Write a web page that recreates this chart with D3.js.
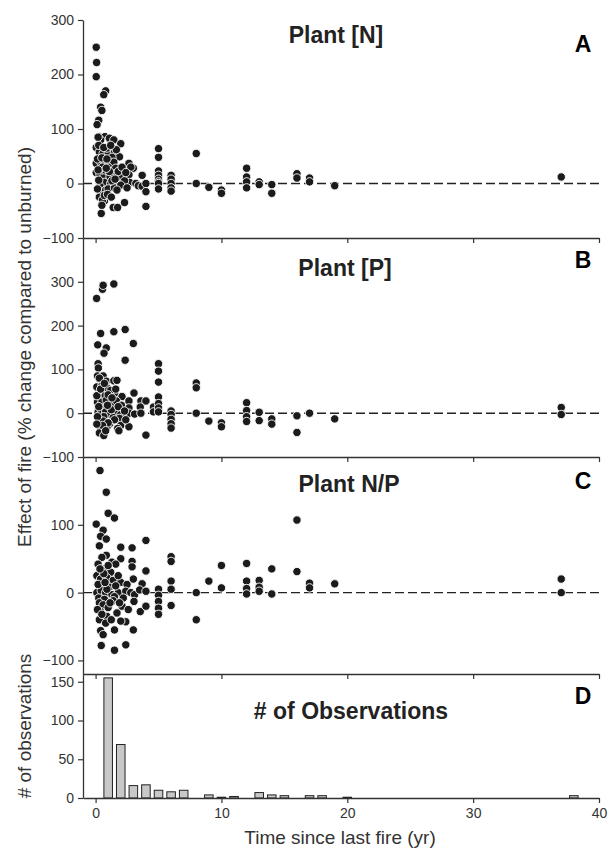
<!DOCTYPE html>
<html><head><meta charset="utf-8">
<script src="https://cdn.jsdelivr.net/npm/d3@7"></script>
<style>
body{margin:0;background:#fff;}
svg{font-family:"Liberation Sans",Arial,sans-serif;}
</style></head>
<body>
<svg id="chart" width="608" height="848"></svg>
<script>
// ---------- data ----------
const xTicks = [0, 10, 20, 30, 40];
const yTicksA = [-100, 0, 100, 200, 300];
const yTicksB = [-100, 0, 100, 200, 300];
const yTicksC = [-100, 0, 100];
const yTicksD = [0, 50, 100, 150];

// Panel A: Plant [N]  [years since fire, % change]
const plantN = [
 [0.05,250],[0.08,222],[0.05,196],[0.8,170],[0.65,163],[0.4,140],[0.5,134],[0.25,116],[0.12,108],
 [0.45,-55],[0.7,-32],[1.4,-44],[1.75,-44],[2.3,-35],[4.0,-42],
 [0.3,86],[0.55,84],[0.75,86],[1.1,83],[1.45,80],[2.0,73],[0.4,80],
 [0.05,66],[0.3,58],[0.6,55],[1.0,58],[1.5,57],[1.9,49],[0.9,65],[1.3,48],
 [0.05,37],[0.4,40],[0.75,37],[1.25,36],[1.45,39],[0.55,30],[1.0,30],[1.6,28],[2.65,37],[3.0,28],[2.8,30],
 [0.05,20],[0.35,17],[0.85,19],[1.45,17],[0.6,10],[1.15,12],[2.0,12],[2.65,16],[3.7,15],[0.2,25],[1.8,22],
 [0.35,0],[0.7,2],[1.2,0],[1.6,-4],[2.7,2],[3.2,0],[3.4,-4],[3.7,-5],[4.0,0],[2.3,5],
 [0.35,-5],[0.45,-15],[0.6,-18],[0.8,-12],[0.3,-25],[0.55,-30],[1.0,-10],[1.5,-8],[2.0,-3],[0.7,-22],[4.0,-15],[1.7,-12],
 [0.15,45],[0.25,70],[0.5,47],[0.65,66],[0.9,45],[1.1,22],[1.3,5],[0.95,-20],[0.15,-10],[0.5,-40],
 [1.25,-25],[1.65,62],[2.1,30],[2.4,20],[2.5,-8],[0.2,85],[1.2,70],[0.85,28],[0.25,6],[1.55,8],
 [5,64],[5,48],[5,23],[5,15],[5,8],[5,3],[5,0],[5,-10],
 [6,15],[6,8],[6,0],[6,-8],[6,-14],
 [8,55],[8,0],[9,-7],[10,-12],[10,-18],
 [12,28],[12,12],[12,3],[12,-8],[13,3],[13,-2],[14,-2],[14,-18],
 [16,18],[16,10],[17,10],[17,3],[19,-4],[37,12]
];

// Panel B: Plant [P]
const plantP = [
 [0.08,262],[0.55,283],[0.6,292],[1.45,295],[0.4,182],[1.45,186],[2.35,191],[0.17,156],[0.85,149],[0.67,137],[3.0,159],[2.35,121],[0.2,113],[0.22,103],
 [0.15,85],[0.6,85],[0.85,73],[1.45,74],[1.7,75],[0.3,80],
 [0.1,60],[0.5,63],[0.9,58],[1.5,45],[1.2,52],[0.35,42],[0.75,40],[3.05,46],[2.1,38],
 [0.15,25],[0.5,25],[0.85,30],[1.3,20],[1.65,28],[2.65,28],[3.6,28],[4.0,28],[2.05,18],[3.55,14],[0.6,12],[1.05,10],[2.65,12],[4.6,14],
 [0.2,2],[0.45,0],[0.8,3],[1.2,-3],[1.6,0],[2.0,-3],[2.65,0],[3.1,-2],[3.6,0],[4.6,3],[0.65,-8],[1.4,-10],[1.9,-12],
 [0.3,-20],[0.6,-18],[1.1,-25],[1.5,-15],[2.0,-28],[0.4,-35],[0.9,-32],[1.75,-35],[2.65,-31],[0.3,-45],[0.65,-51],[1.85,-40],[4.0,-50],[0.15,-8],[1.0,-22],
 [0.1,40],[0.4,55],[0.7,68],[1.0,42],[1.3,35],[0.25,15],[0.55,-28],[1.25,8],[1.8,15],[2.3,5],
 [0.8,-40],[0.1,-25],[1.6,55],[0.95,18],[2.4,-15],
 [5,113],[5,96],[5,71],[5,37],[5,22],[5,12],[5,3],
 [6,5],[6,-3],[6,-14],[6,-24],[6,-34],
 [8,69],[8,58],[8,0],[9,-18],[10,-22],[10,-31],
 [12,24],[12,6],[12,-8],[12,-19],[13,2],[13,-17],[14,-13],[14,-25],
 [16,-6],[16,-44],[17,0],[19,-13],[37,13],[37,-3]
];

// Panel C: Plant N/P
const plantNP = [
 [0.35,180],[0.85,148],[1.0,117],[1.5,110],[0.05,101],[0.6,92],[0.4,83],[0.85,79],[0.3,69],[2.0,67],[2.9,66],[4.0,77],
 [0.85,55],[2.0,50],[2.9,46],[0.5,52],[1.3,45],[0.2,42],[1.6,42],[2.9,38],[0.7,35],[1.2,30],
 [0.1,25],[0.4,20],[0.9,22],[1.4,18],[2.0,15],[0.6,10],[1.1,8],[3.7,13],[4.0,32],[2.5,12],[3.0,20],[1.8,25],
 [0.1,0],[0.45,3],[0.8,0],[1.3,-3],[1.8,0],[2.4,2],[2.8,0],[3.1,-3],[3.5,4],[4.0,2],[0.25,-8],[0.7,-10],[1.5,-6],
 [0.3,-15],[0.6,-18],[1.0,-22],[1.4,-12],[2.1,-20],[0.4,-28],[0.9,-35],[1.7,-30],[3.05,-13],[3.55,-28],[4.0,-20],
 [0.3,-40],[0.8,-45],[2.4,-43],[2.0,-42],[1.5,-55],[3.0,-55],[0.4,-56],[0.45,-78],[1.5,-85],[2.4,-77],[0.6,-62],
 [0.15,-25],[0.5,-32],[0.2,12],[0.65,28],[1.0,40],[1.25,-40],[1.6,10],[0.9,5],[2.2,-8],[0.35,35],
 [1.15,-15],[0.75,15],[2.6,-25],[1.9,-15],
 [5,5],[5,-4],[5,-13],[5,-23],[5,-32],
 [6,53],[6,46],[6,17],[6,5],[6,-19],
 [8,0],[8,-40],[9,17],[10,40],[10,7],
 [12,43],[12,17],[12,6],[12,-2],[13,18],[13,8],[13,2],[14,35],[14,-2],
 [16,107],[16,31],[17,14],[17,7],[19,13],[37,20],[37,0]
];

// Panel D: number of observations
const obsYears  = [1, 2, 3, 4, 5, 6, 7, 9, 10, 11, 13, 14, 15, 17, 18, 20, 38];
const obsCounts = [155, 69, 16, 17, 10, 8, 10, 4, 1, 2, 7, 4, 3, 3, 3, 1, 3];

// ---------- drawing ----------
const svg = d3.select("#chart");
const x = d3.scaleLinear().domain([-1, 40]).range([83, 599]);

const panels = [
  {data: plantN,  domain: [-100, 300], range: [238, 20],  ticks: yTicksA, title: "Plant [N]", tx: 336, ty: 43,  letter: "A", ly: 52},
  {data: plantP,  domain: [-100, 400], range: [457, 238], ticks: yTicksB, title: "Plant [P]", tx: 345, ty: 276, letter: "B", ly: 268},
  {data: plantNP, domain: [-120, 200], range: [674, 457], ticks: yTicksC, title: "Plant N/P", tx: 349, ty: 492, letter: "C", ly: 489}
];

function styleAxis(g) {
  g.selectAll("path.domain").attr("stroke", "#333").attr("stroke-width", 1.3);
  g.selectAll(".tick line").attr("stroke", "#333").attr("stroke-width", 1.2);
  g.selectAll(".tick text").attr("fill", "#333").style("font-size", "14px")
    .style("font-family", "'Liberation Sans',Arial,sans-serif");
}

panels.forEach(p => {
  const y = d3.scaleLinear().domain(p.domain).range(p.range);
  // zero dashed line
  svg.append("line")
    .attr("x1", x(-1)).attr("x2", x(40)).attr("y1", y(0)).attr("y2", y(0))
    .attr("stroke", "#222").attr("stroke-width", 1.4).attr("stroke-dasharray", "9,4");
  // points
  svg.append("g").selectAll("circle").data(p.data).join("circle")
    .attr("cx", d => x(d[0])).attr("cy", d => y(d[1])).attr("r", 4.2)
    .attr("fill", "#1b1b1b").attr("stroke", "#fff").attr("stroke-width", 0.9);
  // axes
  const gy = svg.append("g").attr("transform", `translate(${x(-1)},0)`)
    .call(d3.axisLeft(y).tickValues(p.ticks).tickSize(5).tickSizeOuter(0).tickPadding(4));
  styleAxis(gy);
  const gx = svg.append("g").attr("transform", `translate(0,${p.range[0]})`)
    .call(d3.axisBottom(x).tickValues(xTicks).tickSize(5).tickSizeOuter(0).tickFormat(""));
  styleAxis(gx);
  // titles
  svg.append("text").attr("x", p.tx).attr("y", p.ty).attr("text-anchor", "middle")
    .attr("font-weight", "bold").attr("font-size", 23).attr("fill", "#222").text(p.title);
  svg.append("text").attr("x", 583).attr("y", p.ly).attr("text-anchor", "middle")
    .attr("font-weight", "bold").attr("font-size", 23).attr("fill", "#000").text(p.letter);
});

// Panel D bars
const yD = d3.scaleLinear().domain([0, 160]).range([798, 674]);
const barW = x(0.68) - x(0);
svg.append("g").selectAll("rect").data(obsYears.map((yr, i) => [yr, obsCounts[i]])).join("rect")
  .attr("x", d => x(d[0]) - barW / 2).attr("width", barW)
  .attr("y", d => yD(d[1])).attr("height", d => yD(0) - yD(d[1]))
  .attr("fill", "#c8c8c8").attr("stroke", "#222").attr("stroke-width", 1);
const gyD = svg.append("g").attr("transform", `translate(${x(-1)},0)`)
  .call(d3.axisLeft(yD).tickValues(yTicksD).tickSize(5).tickSizeOuter(0).tickPadding(4));
styleAxis(gyD);
const gxD = svg.append("g").attr("transform", `translate(0,${yD(0)})`)
  .call(d3.axisBottom(x).tickValues(xTicks).tickSize(5).tickSizeOuter(0).tickPadding(5));
styleAxis(gxD);
svg.append("text").attr("x", 351).attr("y", 719).attr("text-anchor", "middle")
  .attr("font-weight", "bold").attr("font-size", 23).attr("fill", "#222").text("# of Observations");
svg.append("text").attr("x", 583).attr("y", 704).attr("text-anchor", "middle")
  .attr("font-weight", "bold").attr("font-size", 23).attr("fill", "#000").text("D");

// axis titles
svg.append("text").attr("x", 340).attr("y", 844).attr("text-anchor", "middle")
  .attr("font-size", 19).attr("fill", "#333").text("Time since last fire (yr)");
svg.append("text").attr("transform", "translate(31,347) rotate(-90)").attr("text-anchor", "middle")
  .attr("font-size", 19).attr("fill", "#333").text("Effect of fire (% change compared to unburned)");
svg.append("text").attr("transform", "translate(31,726) rotate(-90)").attr("text-anchor", "middle")
  .attr("font-size", 19).attr("fill", "#333").text("# of observations");
</script>
</body></html>
